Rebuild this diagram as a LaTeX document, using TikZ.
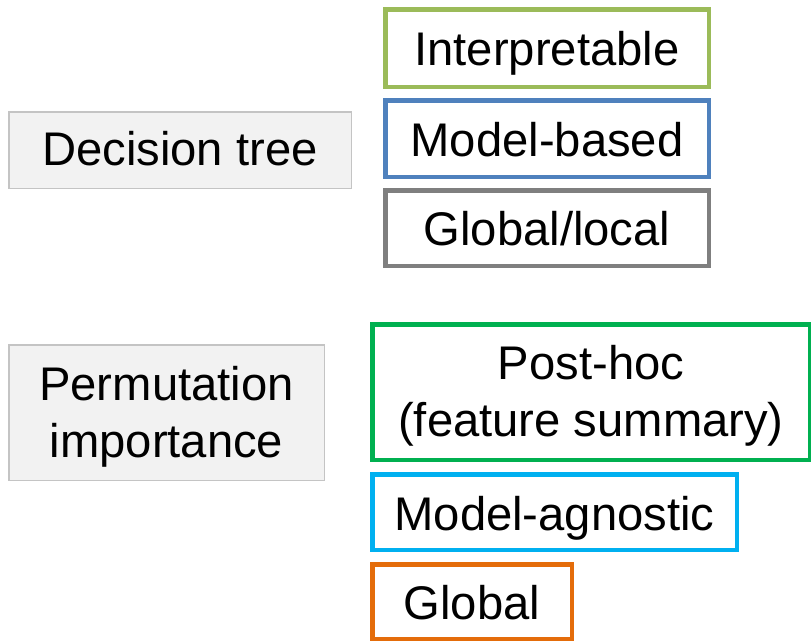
\documentclass[tikz,border=0pt]{standalone}
\usepackage{fontspec}
\setmainfont{Liberation Sans}
\definecolor{cInterp}{HTML}{9BBB59}
\definecolor{cModel}{HTML}{4F81BD}
\definecolor{cScope}{HTML}{7F7F7F}
\definecolor{cPost}{HTML}{00B050}
\definecolor{cAgn}{HTML}{00B0F0}
\definecolor{cGlob}{HTML}{E46C0A}
\definecolor{cMethFill}{HTML}{F2F2F2}
\definecolor{cMethLine}{HTML}{C4C4C4}
\begin{document}
\begin{tikzpicture}[x=1pt,y=-1pt,
  method/.style={draw=cMethLine, fill=cMethFill, line width=1.5pt,
    inner sep=0pt, outer sep=0pt},
  prop/.style={draw=#1, fill=white, line width=4.5pt,
    inner sep=0pt, outer sep=0pt},
  label text/.style={inner sep=0pt, anchor=base, align=center,
    font=\fontsize{47.2}{57}\selectfont}]
\useasboundingbox (0,0) rectangle (811,640);

% methods (left column)
\node[method, minimum width=342.5pt, minimum height=76.5pt] (dtree) at (180,150) {};
\node[method, minimum width=315.5pt, minimum height=135.5pt] (perm) at (166.5,412.5) {};

% properties of the decision tree
\node[prop=cInterp, minimum width=323.5pt, minimum height=77.5pt] (interp) at (547,48) {};
\node[prop=cModel, minimum width=323.5pt, minimum height=76.5pt] (mbased) at (547,138.5) {};
\node[prop=cScope, minimum width=323.5pt, minimum height=75.5pt] (glloc) at (547,228) {};

% properties of permutation importance
\node[prop=cPost, minimum width=437.5pt, minimum height=135.5pt] (posthoc) at (591,392) {};
\node[prop=cAgn, minimum width=364.5pt, minimum height=75.5pt] (agn) at (554.5,512) {};
\node[prop=cGlob, minimum width=199.5pt, minimum height=74.5pt] (glob) at (472,601.5) {};

% texts, placed on the baseline of their last line
\node[label text] (tdtree) at (180,165) {Decision tree};
\node[label text] (tperm) at (166.5,457) {Permutation\\importance};
\node[label text] (tinterp) at (547,65.7) {Interpretable};
\node[label text] (tmbased) at (547,156.5) {Model-based};
\node[label text] (tglloc) at (547,245.5) {Global/local};
\node[label text] (tposthoc) at (591,436.7) {Post-hoc\\(feature summary)};
\node[label text] (tagn) at (554.5,530) {Model-agnostic};
\node[label text] (tglob) at (472,619) {Global};
\end{tikzpicture}
\end{document}
